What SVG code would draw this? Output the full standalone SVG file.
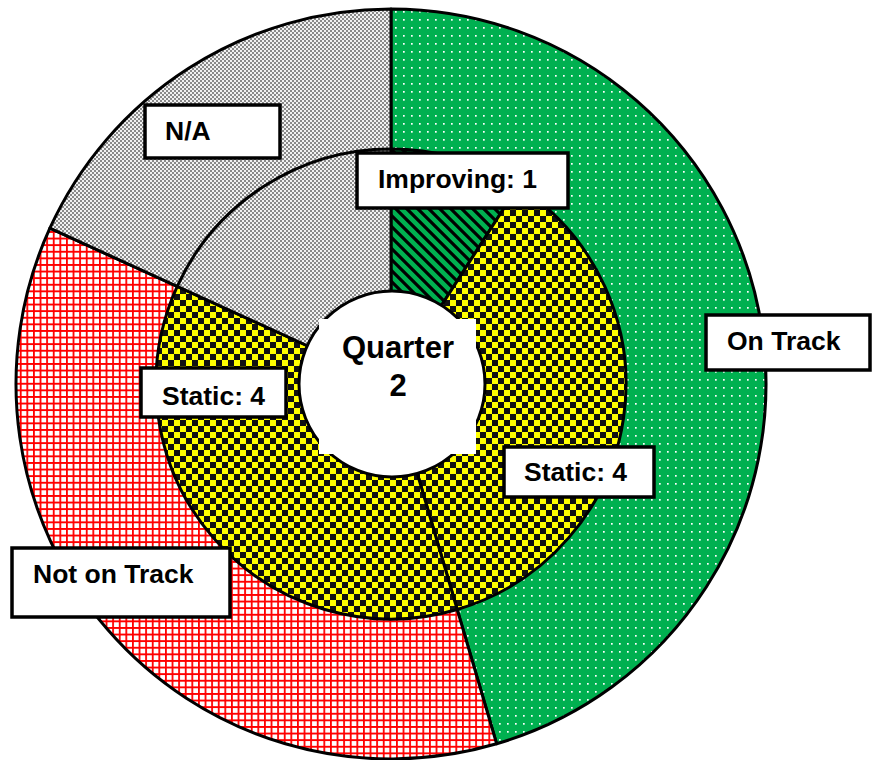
<svg xmlns="http://www.w3.org/2000/svg" width="873" height="760" viewBox="0 0 873 760">
<style>
.seg{stroke:#000;stroke-width:3;stroke-linejoin:round}
.box{fill:#fff;stroke:#000;stroke-width:3.5}
.lbl{font-family:"Liberation Sans",Arial,sans-serif;font-weight:bold;font-size:26.5px;fill:#000}
.ctr{font-family:"Liberation Sans",Arial,sans-serif;font-weight:bold;font-size:31px;fill:#000;text-anchor:middle}
</style>
<defs>
<pattern id="dots" width="8" height="8" patternUnits="userSpaceOnUse">
<rect width="8" height="8" fill="#00B050"/>
<rect x="3" y="3" width="1.7" height="1.7" fill="#fff"/>
</pattern>
<pattern id="redgrid" width="6.6" height="6.6" patternUnits="userSpaceOnUse">
<rect width="6.6" height="6.6" fill="#fff"/>
<path d="M0,0.9 H6.6 M0.9,0 V6.6" stroke="#f00" stroke-width="1.8"/>
</pattern>
<pattern id="grayck" width="4" height="4" patternUnits="userSpaceOnUse">
<rect width="4" height="4" fill="#f2f2f2"/>
<rect width="2" height="2" fill="#8a8a8a"/>
<rect x="2" y="2" width="2" height="2" fill="#8a8a8a"/>
</pattern>
<pattern id="yck" width="12" height="12" patternUnits="userSpaceOnUse">
<rect width="12" height="12" fill="#ff0"/>
<rect width="6" height="6" fill="#111"/>
<rect x="6" y="6" width="6" height="6" fill="#111"/>
</pattern>
<pattern id="stripes" width="11" height="11" patternUnits="userSpaceOnUse">
<rect width="11" height="11" fill="#00B050"/>
<path d="M-5.5,5.5 L5.5,16.5 M0,0 L11,11 M5.5,-5.5 L16.5,5.5" stroke="#000" stroke-width="3.2"/>
</pattern>
</defs>

<g id="outer-ring">
<path id="on-track" class="seg" fill="url(#dots)" d="M391,384 L391,9 A375,375 0 0 1 496.65,743.81 Z"/>
<path id="not-on-track" class="seg" fill="url(#redgrid)" d="M391,384 L496.65,743.81 A375,375 0 0 1 49.89,228.22 Z"/>
<path id="na-outer" class="seg" fill="url(#grayck)" d="M391,384 L49.89,228.22 A375,375 0 0 1 391,9 Z"/>
</g>
<g id="inner-ring">
<path id="improving" class="seg" fill="url(#stripes)" d="M391,384 L391,149 A235,235 0 0 1 518.05,186.30 Z"/>
<path id="static-right" class="seg" fill="url(#yck)" d="M391,384 L518.05,186.30 A235,235 0 0 1 457.21,609.48 Z"/>
<path id="static-left" class="seg" fill="url(#yck)" d="M391,384 L457.21,609.48 A235,235 0 0 1 177.24,286.38 Z"/>
<path id="na-inner" class="seg" fill="url(#grayck)" d="M391,384 L177.24,286.38 A235,235 0 0 1 391,149 Z"/>
</g>
<g id="center">
<circle cx="392" cy="384" r="93" fill="#fff" stroke="#000" stroke-width="3"/>
<rect x="319" y="319" width="157" height="135" fill="#fff"/>
<text class="ctr" x="398" y="358">Quarter</text>
<text class="ctr" x="398" y="396">2</text>
</g>

<g id="label-improving">
<rect class="box" x="357" y="153" width="211" height="55"/>
<text class="lbl" x="378" y="188">Improving: 1</text>
</g>
<g id="label-na">
<rect class="box" x="145" y="105" width="135" height="53"/>
<text class="lbl" x="165" y="140">N/A</text>
</g>
<g id="label-on-track">
<rect class="box" x="706" y="315" width="164" height="55"/>
<text class="lbl" x="727" y="350">On Track</text>
</g>
<g id="label-static-right">
<rect class="box" x="504" y="447" width="150" height="50"/>
<text class="lbl" x="524" y="481">Static: 4</text>
</g>
<g id="label-static-left">
<rect class="box" x="141" y="368" width="145" height="49"/>
<text class="lbl" x="162" y="405">Static: 4</text>
</g>
<g id="label-not-on-track">
<rect class="box" x="12" y="548" width="218" height="69"/>
<text class="lbl" x="33" y="583">Not on Track</text>
</g>
</svg>
